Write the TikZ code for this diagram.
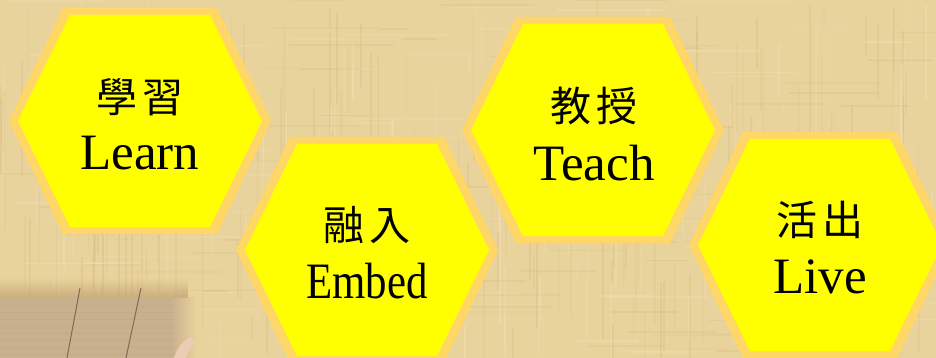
\documentclass[tikz,border=0pt]{standalone}
\usepackage{graphicx}
\usepackage{fontspec}
\setmainfont{Liberation Serif}
\newfontfamily\cjk{Noto Sans CJK TC}
\usetikzlibrary{fadings}
\definecolor{parch}{HTML}{E9D39C}
\definecolor{parchdark}{HTML}{D2B57C}
\definecolor{parchlight}{HTML}{F4E4BC}
\definecolor{hexborder}{HTML}{FFD766}
\definecolor{hexfill}{HTML}{FFFF00}
\definecolor{objc}{HTML}{C8B08E}
\definecolor{objshadow}{HTML}{BFA173}
\definecolor{objline}{HTML}{6E5E4A}
\definecolor{peach}{HTML}{EBCDB4}
\tikzset{
  hexa/.pic={
    \fill[hexborder] (-131,0) -- (-77,-113) -- (77,-113) -- (131,0) -- (77,113) -- (-77,113) -- cycle;
    \fill[hexfill] (-122,0) -- (-70,-106) -- (70,-106) -- (122,0) -- (70,106) -- (-70,106) -- cycle;
  },
  cjkt/.style={font=\cjk\fontsize{41}{48}\selectfont, inner sep=0pt, text=black},
  ent/.style={font=\fontsize{51}{60}\selectfont, inner sep=0pt, text=black, anchor=base},
}
\begin{document}
\begin{tikzpicture}[x=1pt,y=-1pt]
\useasboundingbox (0,0) rectangle (936,358);
% parchment background
\fill[parch] (0,0) rectangle (936,358);
\pgfmathsetseed{17}
\foreach \i in {1,...,220}{
  \pgfmathsetmacro\xx{random(0,936)}
  \pgfmathsetmacro\ys{random(0,330)}
  \pgfmathsetmacro\ln{random(20,140)}
  \pgfmathsetmacro\op{0.1+0.22*rnd}
  \pgfmathsetmacro\lw{0.6+1.4*rnd}
  \draw[parchdark, opacity=\op, line width=\lw pt] (\xx,\ys) -- (\xx,\ys+\ln);
}
\foreach \i in {1,...,140}{
  \pgfmathsetmacro\xx{random(0,936)}
  \pgfmathsetmacro\ys{random(0,330)}
  \pgfmathsetmacro\ln{random(20,120)}
  \pgfmathsetmacro\op{0.12+0.25*rnd}
  \pgfmathsetmacro\lw{0.6+1.2*rnd}
  \draw[parchlight, opacity=\op, line width=\lw pt] (\xx,\ys) -- (\xx,\ys+\ln);
}
\foreach \i in {1,...,110}{
  \pgfmathsetmacro\xx{random(0,900)}
  \pgfmathsetmacro\ys{random(0,358)}
  \pgfmathsetmacro\ln{random(20,120)}
  \pgfmathsetmacro\op{0.08+0.2*rnd}
  \pgfmathsetmacro\lw{0.6+1.2*rnd}
  \draw[parchdark, opacity=\op, line width=\lw pt] (\xx,\ys) -- (\xx+\ln,\ys);
}
\foreach \i in {1,...,80}{
  \pgfmathsetmacro\xx{random(0,900)}
  \pgfmathsetmacro\ys{random(0,358)}
  \pgfmathsetmacro\ln{random(20,120)}
  \pgfmathsetmacro\op{0.12+0.22*rnd}
  \pgfmathsetmacro\lw{0.6+1.0*rnd}
  \draw[parchlight, opacity=\op, line width=\lw pt] (\xx,\ys) -- (\xx+\ln,\ys);
}
% object at bottom left
\fill[objshadow, path fading=north, opacity=0.75] (0,278) rectangle (188,298);
\fill[objc] (0,297) rectangle (170,358);
\fill[objc, path fading=east] (170,297) rectangle (196,358);
\foreach \yy in {305,312,...,356}{
  \draw[objshadow, opacity=0.25, line width=0.7pt] (0,\yy) -- (175,\yy);
}
\draw[objline, line width=1pt, opacity=0.85] (80,288) -- (67,358);
\draw[objline, line width=1pt, opacity=0.85] (141,288) -- (126,358);
\fill[peach] (174,358) .. controls (177,348) and (183,341) .. (191,337) -- (195,343) .. controls (190,348) and (187,353) .. (186,358) -- cycle;
% hexagons
\pic at (140,121) {hexa};
\pic at (367,250) {hexa};
\pic at (593,130) {hexa};
\pic at (820,245) {hexa};
% texts
\node[cjkt] (c1) at (140,97) {學\hspace{6pt}習};
\node[ent] (e1) at (140,170) {Learn};
\node[cjkt] (c2) at (367,225) {融\hspace{6pt}入};
\node[ent] (e2) at (367,298) {\scalebox{0.84}[1]{Embed}};
\node[cjkt] (c3) at (594,106) {教\hspace{6pt}授};
\node[ent] (e3) at (594,180) {Teach};
\node[cjkt] (c4) at (820,220) {活\hspace{6pt}出};
\node[ent] (e4) at (820,293) {Live};
\end{tikzpicture}
\end{document}
